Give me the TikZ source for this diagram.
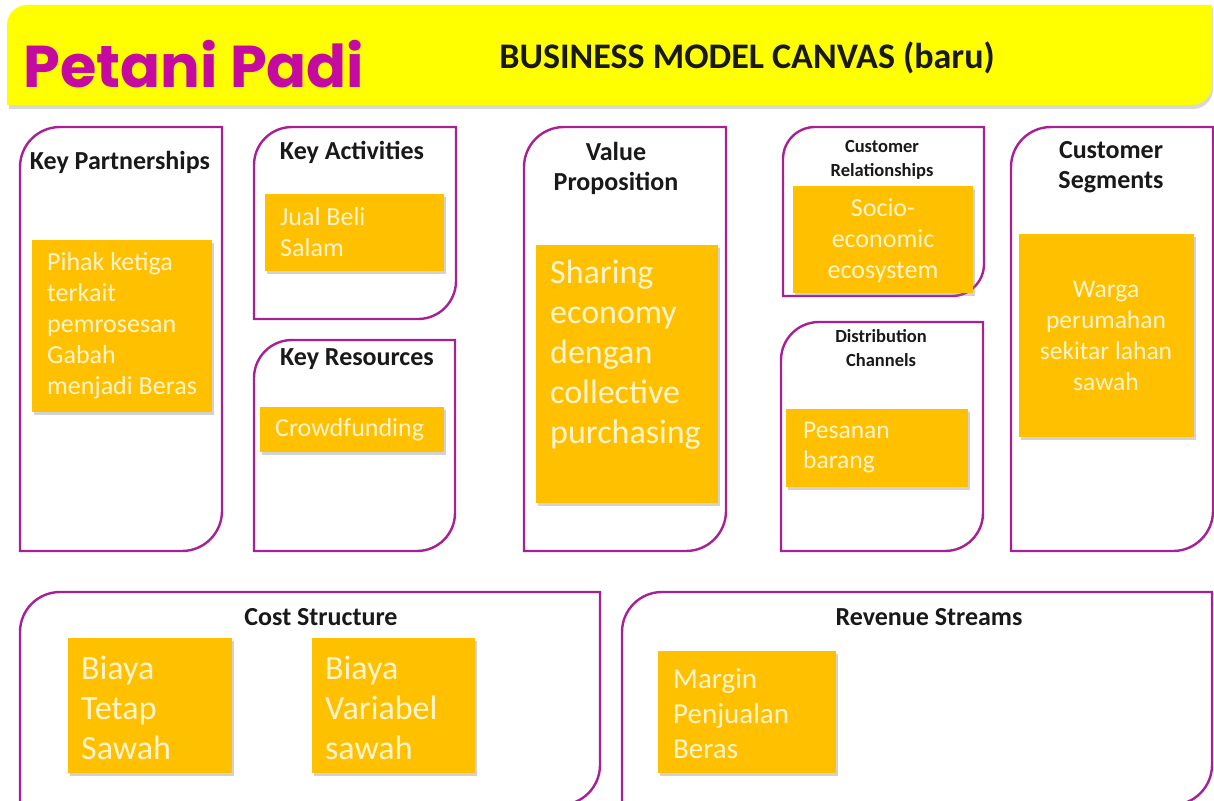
\documentclass[tikz,border=0pt]{standalone}
\usepackage{fontspec}
\setmainfont{Carlito}
\newfontfamily\titlefont{Poppins}
\usetikzlibrary{shadows}
\definecolor{framec}{RGB}{168,32,150}
\definecolor{gold}{RGB}{255,192,0}
\definecolor{goldtext}{RGB}{255,244,206}
\definecolor{hdr}{RGB}{255,255,0}
\definecolor{magt}{RGB}{196,10,160}
\tikzset{
  frame/.style={draw=framec, line width=2.4pt, fill=white},
  goldbox/.style={fill=gold, draw=none, inner sep=0pt, anchor=north west,
     drop shadow={shadow xshift=2pt, shadow yshift=-3pt, opacity=0.35}},
  boxtxt/.style={text=goldtext, inner sep=0pt, align=left, anchor=west},
  boxtxtc/.style={text=goldtext, inner sep=0pt, align=center},
  ttl/.style={font=\bfseries\fontsize{26}{30}\selectfont, inner sep=0pt, align=center, text=black!90},
  ttls/.style={font=\bfseries\fontsize{18.5}{24}\selectfont, inner sep=0pt, align=center, text=black!90}
}
% frame with rounded top-left and bottom-right corners (pixel coords, y down)
\newcommand{\diagframe}[5]{%
  \draw[frame] (#1,#4) -- (#1,#2+#5) arc[start angle=180,end angle=90,radius=#5pt]
     -- (#3,#2) -- (#3,#4-#5) arc[start angle=0,end angle=-90,radius=#5pt] -- cycle;}
\begin{document}
\begin{tikzpicture}[x=1pt,y=-1pt]
\useasboundingbox (0,0) rectangle (1214,800);
\clip (0,0) rectangle (1214,800);
\fill[white] (0,0) rectangle (1214,800);
% header
\fill[black!25, opacity=0.6] (9,109) -- (9,8+20) arc[start angle=180,end angle=90,radius=20pt]
   -- (1213,8) -- (1213,109-20) arc[start angle=0,end angle=-90,radius=20pt] -- cycle;
\fill[hdr] (7,105) -- (7,5+20) arc[start angle=180,end angle=90,radius=20pt]
   -- (1212,5) -- (1212,105-20) arc[start angle=0,end angle=-90,radius=20pt] -- cycle;
\node[anchor=west, inner sep=0pt, text=magt, font=\titlefont\bfseries\fontsize{59}{60}\selectfont] (brand) at (23,64) {Petani Padi};
\node[inner sep=0pt, font=\bfseries\fontsize{36}{40}\selectfont, text=black!90] (bmc) at (747,58) {BUSINESS MODEL CANVAS (baru)};

% frames
\diagframe{20}{127}{222}{551}{40}
\diagframe{254}{127}{456}{319}{38}
\diagframe{254}{340}{455}{551}{38}
\diagframe{524}{127}{726}{551}{40}
\diagframe{783}{127}{984}{296}{32}
\diagframe{781}{322}{983}{551}{38}
\diagframe{1011}{127}{1213}{551}{40}
\diagframe{20}{592}{600}{805}{40}
\diagframe{622}{592}{1212}{805}{40}

% titles
\node[ttl] (tkp) at (120,162) {Key Partnerships};
\node[ttl] (tka) at (352,152) {Key Activities};
\node[ttl] (tkr) at (357,359) {Key Resources};
\node[ttl] (tvp) at (616,168) {Value\\Proposition};
\node[ttls] (tcr) at (882,160) {Customer\\Relationships};
\node[ttls] (tdc) at (881,348) {Distribution\\Channels};
\node[ttl] (tcs) at (1111,167) {Customer\\Segments};
\node[ttl] (tcost) at (321,617) {Cost Structure};
\node[ttl] (trev) at (929,617) {Revenue Streams};

% gold boxes
\node[goldbox, minimum width=180pt, minimum height=172pt] (bkp) at (32,240) {};
\node[goldbox, minimum width=179pt, minimum height=77pt] (bka) at (265,194) {};
\node[goldbox, minimum width=184pt, minimum height=45pt] (bkr) at (260,407) {};
\node[goldbox, minimum width=182pt, minimum height=258pt] (bvp) at (536,245) {};
\node[goldbox, minimum width=180pt, minimum height=107pt] (bcr) at (793,186) {};
\node[goldbox, minimum width=182pt, minimum height=78pt] (bdc) at (786,409) {};
\node[goldbox, minimum width=175pt, minimum height=203pt] (bcs) at (1019,234) {};
\node[goldbox, minimum width=164pt, minimum height=135pt] (bc1) at (68,638) {};
\node[goldbox, minimum width=163pt, minimum height=135pt] (bc2) at (312,638) {};
\node[goldbox, minimum width=178pt, minimum height=122pt] (brv) at (658,651) {};

% box texts
\node[boxtxt, font=\fontsize{26}{31}\selectfont] (xkp) at (47,326) {Pihak ketiga\\terkait\\pemrosesan\\Gabah\\menjadi Beras};
\node[boxtxt, font=\fontsize{26}{31}\selectfont] (xka) at (280,232) {Jual Beli\\Salam};
\node[boxtxt, font=\fontsize{26}{31}\selectfont] (xkr) at (275,430) {Crowdfunding};
\node[boxtxt, font=\fontsize{34}{40}\selectfont] (xvp) at (550,355) {Sharing\\economy\\dengan\\collective\\purchasing};
\node[boxtxtc, font=\fontsize{26}{31}\selectfont] (xcr) at (883,241) {Socio-\\economic\\ecosystem};
\node[boxtxt, font=\fontsize{25.5}{30}\selectfont] (xdc) at (803,448) {Pesanan\\barang};
\node[boxtxtc, font=\fontsize{25.5}{31}\selectfont] (xcs) at (1106,336) {Warga\\perumahan\\sekitar lahan\\sawah};
\node[boxtxt, font=\fontsize{34}{40}\selectfont] (xc1) at (81,708) {Biaya\\Tetap\\Sawah};
\node[boxtxt, font=\fontsize{34}{40}\selectfont] (xc2) at (325,708) {Biaya\\Variabel\\sawah};
\node[boxtxt, font=\fontsize{29}{35}\selectfont] (xrv) at (673,714) {Margin\\Penjualan\\Beras};
\end{tikzpicture}
\end{document}
